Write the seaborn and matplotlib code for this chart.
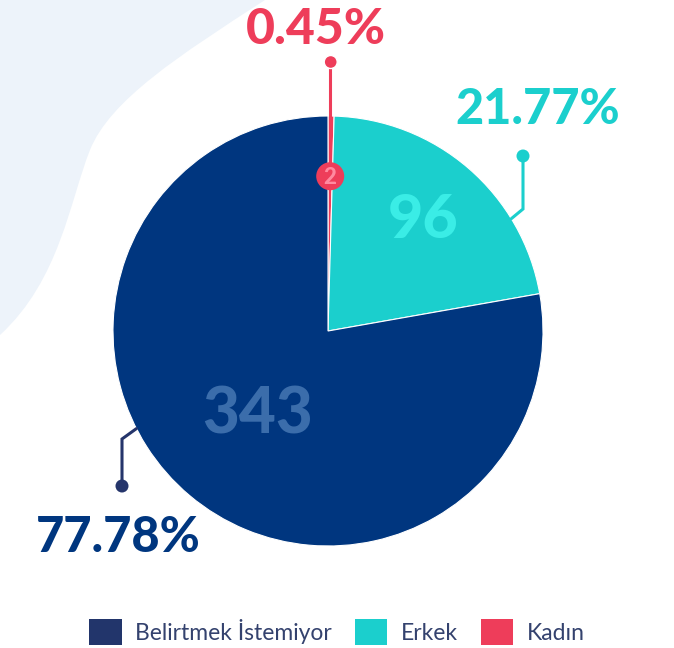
import matplotlib
matplotlib.use("Agg")
import matplotlib.pyplot as plt
import seaborn as sns
import numpy as np
from matplotlib.patches import PathPatch, Circle
from matplotlib.path import Path

# data
categories = ["Kadın", "Erkek", "Belirtmek İstemiyor"]
counts = [2, 96, 343]
pct_labels = ["0.45%", "21.77%", "77.78%"]
legend_order = ["Belirtmek İstemiyor", "Erkek", "Kadın"]

# styles
slice_colors = {"Kadın": "#EE3D5A", "Erkek": "#1BCFCD", "Belirtmek İstemiyor": "#00367F"}
value_colors = {"Kadın": "#FF8AA0", "Erkek": "#3AEDE6", "Belirtmek İstemiyor": "#3B6DAB"}
pct_colors = {"Kadın": "#EE3D5A", "Erkek": "#1BCFCD", "Belirtmek İstemiyor": "#00367F"}
leader_colors = {"Kadın": "#EE3D5A", "Erkek": "#1BCFCD", "Belirtmek İstemiyor": "#25356B"}

sns.set_theme(style="white")
plt.rcParams["font.family"] = ["Lato", "DejaVu Sans"]

W, H = 674, 648
fig = plt.figure(figsize=(W / 100, H / 100), dpi=100)
ax = fig.add_axes([0, 0, 1, 1])
ax.set_xlim(0, W)
ax.set_ylim(0, H)
ax.set_aspect("equal")
ax.axis("off")

# light background blob upper-left (smooth curve)
verts = [(0, H), (265, H),
         (180, H - 55), (110, H - 100), (90, H - 150),
         (70, H - 200), (60, H - 280), (0, H - 335),
         (0, H)]
codes = [Path.MOVETO, Path.LINETO,
         Path.CURVE4, Path.CURVE4, Path.CURVE4,
         Path.CURVE4, Path.CURVE4, Path.CURVE4,
         Path.CLOSEPOLY]
ax.add_patch(PathPatch(Path(verts, codes), facecolor="#EDF3FA", edgecolor="none", zorder=0))

cx, cy, R = 328, H - 331, 215
wedges, _ = ax.pie(counts, colors=[slice_colors[c] for c in categories],
                   startangle=90, counterclock=False, radius=R, center=(cx, cy),
                   wedgeprops=dict(linewidth=0.8, edgecolor="white"))
ax.set_xlim(0, W)
ax.set_ylim(0, H)
for w in wedges:
    w.set_zorder(2)

# value labels inside slices
value_r = {"Kadın": 0.72, "Erkek": 0.68, "Belirtmek İstemiyor": 0.51}
value_size = {"Kadın": 16, "Erkek": 44, "Belirtmek İstemiyor": 46}
for w, cat, n in zip(wedges, categories, counts):
    mid = np.deg2rad((w.theta1 + w.theta2) / 2)
    x = cx + value_r[cat] * R * np.cos(mid)
    y = cy + value_r[cat] * R * np.sin(mid)
    if cat == "Kadın":
        ax.plot([x, x], [y, H - 62], color=leader_colors[cat], lw=2.2, zorder=3)
        ax.add_patch(Circle((x, y), 14, facecolor=slice_colors[cat], edgecolor="none", zorder=4))
        ax.add_patch(Circle((x + 0.5, H - 62), 6.5, facecolor=leader_colors[cat], zorder=4))
        ax.text(x, y - 1, str(n), color=value_colors[cat], fontsize=value_size[cat],
                fontweight="black", ha="center", va="center", zorder=5)
        ax.text(x - 14, H - 30, pct_labels[categories.index(cat)], color=pct_colors[cat],
                fontsize=36, fontweight="black", ha="center", va="center", zorder=5)
    else:
        ax.text(x, y, str(n), color=value_colors[cat], fontsize=value_size[cat],
                fontweight="black", ha="center", va="center", zorder=5)

# leader lines for the two larger slices
# (anchor angle on the rim, knee point, dot point, label point)
leaders = {
    "Erkek": (31.5, (523, H - 209), (523, H - 156), (538, H - 110)),
    "Belirtmek İstemiyor": (207.0, (122, H - 439), (122, H - 486), (118, H - 538)),
}
for cat, (ang, knee, dot, lab) in leaders.items():
    a = np.deg2rad(ang)
    ax_, ay_ = cx + R * np.cos(a), cy + R * np.sin(a)
    col = leader_colors[cat]
    ax.plot([ax_, knee[0], dot[0]], [ay_, knee[1], dot[1]], color=col, lw=2.2, zorder=3,
            solid_joinstyle="miter")
    ax.add_patch(Circle(dot, 6.5, facecolor=col, edgecolor="none", zorder=4))
    ax.text(lab[0], lab[1], pct_labels[categories.index(cat)], color=pct_colors[cat],
            fontsize=35, fontweight="black", ha="center", va="center", zorder=5)

# legend
handles = [wedges[categories.index(c)] for c in legend_order]
leg = fig.legend(handles, legend_order, loc="center", bbox_to_anchor=(0.5, 1 - 632 / H),
                 ncol=3, frameon=False, fontsize=16.5, handlelength=1.4, handleheight=1.4,
                 handletextpad=0.6, columnspacing=1.0, labelcolor="#34426E")
for h, c in zip(leg.legend_handles, legend_order):
    h.set_facecolor(slice_colors[c] if c != "Belirtmek İstemiyor" else "#22356B")
    h.set_edgecolor("none")

fig.savefig("out.png", dpi=100)
